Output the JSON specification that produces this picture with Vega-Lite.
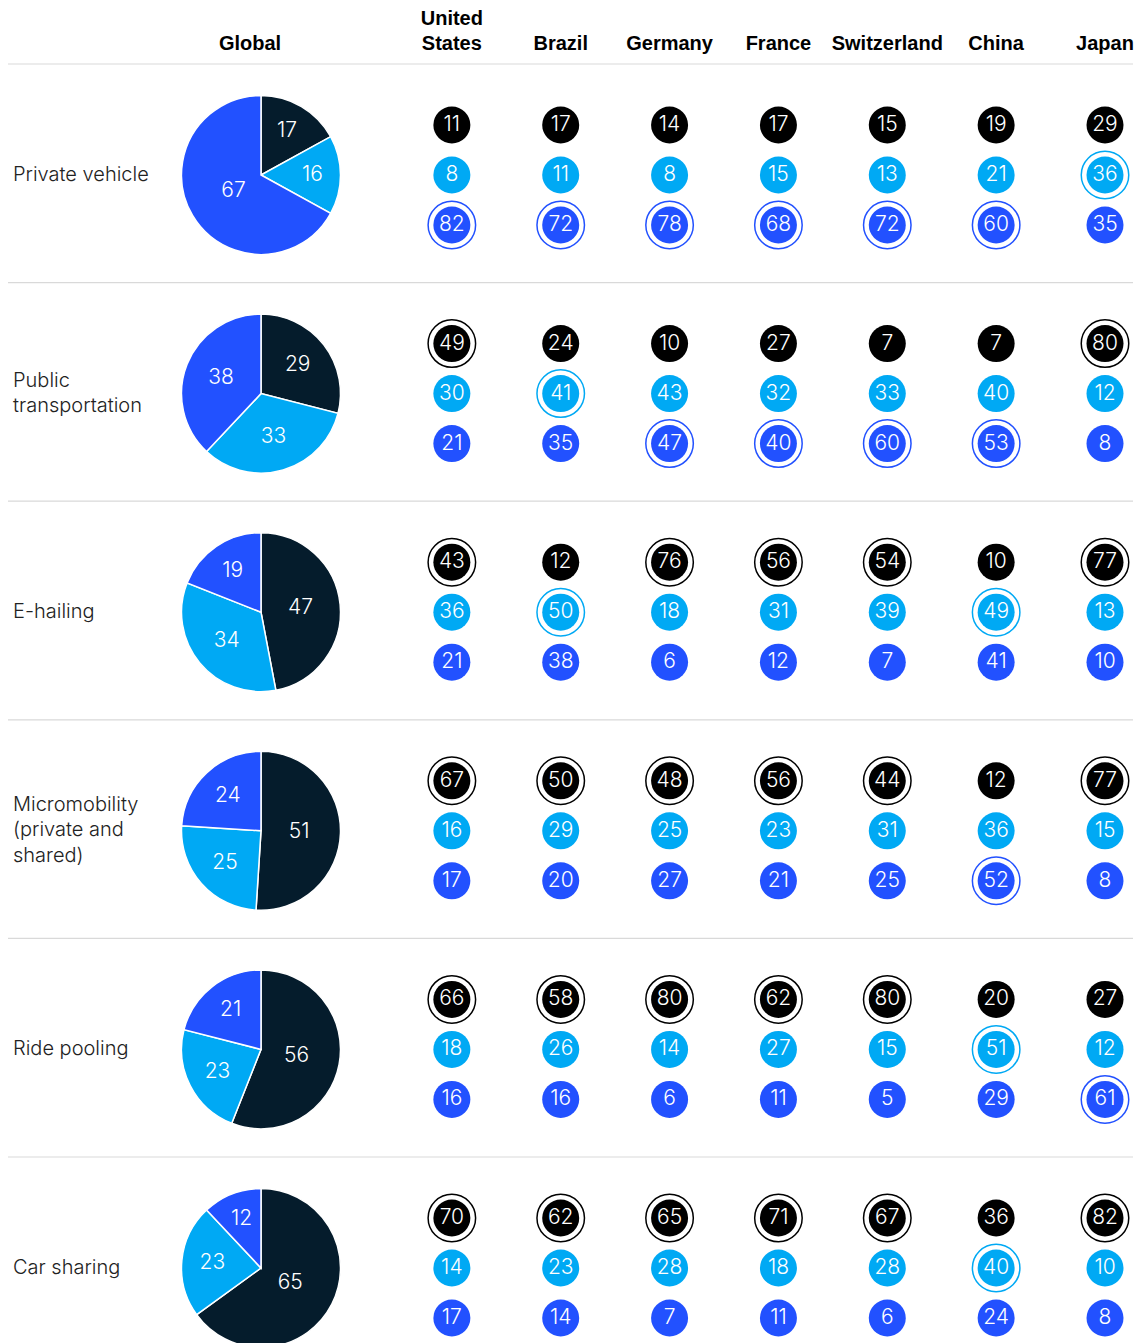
{
  "$schema": "https://vega.github.io/schema/vega-lite/v6.json",
  "width": 1145,
  "height": 1343,
  "autosize": {"type": "fit", "contains": "padding"},
  "padding": 0,
  "background": "white",
  "config": {"view": {"stroke": null}, "font": "Inter"},
  "datasets": {
    "survey": [
      {"mode":"Private vehicle","country":"Global","segment":"s1","value":17},
      {"mode":"Private vehicle","country":"Global","segment":"s2","value":16},
      {"mode":"Private vehicle","country":"Global","segment":"s3","value":67},
      {"mode":"Private vehicle","country":"United States","segment":"s1","value":11},
      {"mode":"Private vehicle","country":"United States","segment":"s2","value":8},
      {"mode":"Private vehicle","country":"United States","segment":"s3","value":82},
      {"mode":"Private vehicle","country":"Brazil","segment":"s1","value":17},
      {"mode":"Private vehicle","country":"Brazil","segment":"s2","value":11},
      {"mode":"Private vehicle","country":"Brazil","segment":"s3","value":72},
      {"mode":"Private vehicle","country":"Germany","segment":"s1","value":14},
      {"mode":"Private vehicle","country":"Germany","segment":"s2","value":8},
      {"mode":"Private vehicle","country":"Germany","segment":"s3","value":78},
      {"mode":"Private vehicle","country":"France","segment":"s1","value":17},
      {"mode":"Private vehicle","country":"France","segment":"s2","value":15},
      {"mode":"Private vehicle","country":"France","segment":"s3","value":68},
      {"mode":"Private vehicle","country":"Switzerland","segment":"s1","value":15},
      {"mode":"Private vehicle","country":"Switzerland","segment":"s2","value":13},
      {"mode":"Private vehicle","country":"Switzerland","segment":"s3","value":72},
      {"mode":"Private vehicle","country":"China","segment":"s1","value":19},
      {"mode":"Private vehicle","country":"China","segment":"s2","value":21},
      {"mode":"Private vehicle","country":"China","segment":"s3","value":60},
      {"mode":"Private vehicle","country":"Japan","segment":"s1","value":29},
      {"mode":"Private vehicle","country":"Japan","segment":"s2","value":36},
      {"mode":"Private vehicle","country":"Japan","segment":"s3","value":35},

      {"mode":"Public transportation","country":"Global","segment":"s1","value":29},
      {"mode":"Public transportation","country":"Global","segment":"s2","value":33},
      {"mode":"Public transportation","country":"Global","segment":"s3","value":38},
      {"mode":"Public transportation","country":"United States","segment":"s1","value":49},
      {"mode":"Public transportation","country":"United States","segment":"s2","value":30},
      {"mode":"Public transportation","country":"United States","segment":"s3","value":21},
      {"mode":"Public transportation","country":"Brazil","segment":"s1","value":24},
      {"mode":"Public transportation","country":"Brazil","segment":"s2","value":41},
      {"mode":"Public transportation","country":"Brazil","segment":"s3","value":35},
      {"mode":"Public transportation","country":"Germany","segment":"s1","value":10},
      {"mode":"Public transportation","country":"Germany","segment":"s2","value":43},
      {"mode":"Public transportation","country":"Germany","segment":"s3","value":47},
      {"mode":"Public transportation","country":"France","segment":"s1","value":27},
      {"mode":"Public transportation","country":"France","segment":"s2","value":32},
      {"mode":"Public transportation","country":"France","segment":"s3","value":40},
      {"mode":"Public transportation","country":"Switzerland","segment":"s1","value":7},
      {"mode":"Public transportation","country":"Switzerland","segment":"s2","value":33},
      {"mode":"Public transportation","country":"Switzerland","segment":"s3","value":60},
      {"mode":"Public transportation","country":"China","segment":"s1","value":7},
      {"mode":"Public transportation","country":"China","segment":"s2","value":40},
      {"mode":"Public transportation","country":"China","segment":"s3","value":53},
      {"mode":"Public transportation","country":"Japan","segment":"s1","value":80},
      {"mode":"Public transportation","country":"Japan","segment":"s2","value":12},
      {"mode":"Public transportation","country":"Japan","segment":"s3","value":8},

      {"mode":"E-hailing","country":"Global","segment":"s1","value":47},
      {"mode":"E-hailing","country":"Global","segment":"s2","value":34},
      {"mode":"E-hailing","country":"Global","segment":"s3","value":19},
      {"mode":"E-hailing","country":"United States","segment":"s1","value":43},
      {"mode":"E-hailing","country":"United States","segment":"s2","value":36},
      {"mode":"E-hailing","country":"United States","segment":"s3","value":21},
      {"mode":"E-hailing","country":"Brazil","segment":"s1","value":12},
      {"mode":"E-hailing","country":"Brazil","segment":"s2","value":50},
      {"mode":"E-hailing","country":"Brazil","segment":"s3","value":38},
      {"mode":"E-hailing","country":"Germany","segment":"s1","value":76},
      {"mode":"E-hailing","country":"Germany","segment":"s2","value":18},
      {"mode":"E-hailing","country":"Germany","segment":"s3","value":6},
      {"mode":"E-hailing","country":"France","segment":"s1","value":56},
      {"mode":"E-hailing","country":"France","segment":"s2","value":31},
      {"mode":"E-hailing","country":"France","segment":"s3","value":12},
      {"mode":"E-hailing","country":"Switzerland","segment":"s1","value":54},
      {"mode":"E-hailing","country":"Switzerland","segment":"s2","value":39},
      {"mode":"E-hailing","country":"Switzerland","segment":"s3","value":7},
      {"mode":"E-hailing","country":"China","segment":"s1","value":10},
      {"mode":"E-hailing","country":"China","segment":"s2","value":49},
      {"mode":"E-hailing","country":"China","segment":"s3","value":41},
      {"mode":"E-hailing","country":"Japan","segment":"s1","value":77},
      {"mode":"E-hailing","country":"Japan","segment":"s2","value":13},
      {"mode":"E-hailing","country":"Japan","segment":"s3","value":10},

      {"mode":"Micromobility (private and shared)","country":"Global","segment":"s1","value":51},
      {"mode":"Micromobility (private and shared)","country":"Global","segment":"s2","value":25},
      {"mode":"Micromobility (private and shared)","country":"Global","segment":"s3","value":24},
      {"mode":"Micromobility (private and shared)","country":"United States","segment":"s1","value":67},
      {"mode":"Micromobility (private and shared)","country":"United States","segment":"s2","value":16},
      {"mode":"Micromobility (private and shared)","country":"United States","segment":"s3","value":17},
      {"mode":"Micromobility (private and shared)","country":"Brazil","segment":"s1","value":50},
      {"mode":"Micromobility (private and shared)","country":"Brazil","segment":"s2","value":29},
      {"mode":"Micromobility (private and shared)","country":"Brazil","segment":"s3","value":20},
      {"mode":"Micromobility (private and shared)","country":"Germany","segment":"s1","value":48},
      {"mode":"Micromobility (private and shared)","country":"Germany","segment":"s2","value":25},
      {"mode":"Micromobility (private and shared)","country":"Germany","segment":"s3","value":27},
      {"mode":"Micromobility (private and shared)","country":"France","segment":"s1","value":56},
      {"mode":"Micromobility (private and shared)","country":"France","segment":"s2","value":23},
      {"mode":"Micromobility (private and shared)","country":"France","segment":"s3","value":21},
      {"mode":"Micromobility (private and shared)","country":"Switzerland","segment":"s1","value":44},
      {"mode":"Micromobility (private and shared)","country":"Switzerland","segment":"s2","value":31},
      {"mode":"Micromobility (private and shared)","country":"Switzerland","segment":"s3","value":25},
      {"mode":"Micromobility (private and shared)","country":"China","segment":"s1","value":12},
      {"mode":"Micromobility (private and shared)","country":"China","segment":"s2","value":36},
      {"mode":"Micromobility (private and shared)","country":"China","segment":"s3","value":52},
      {"mode":"Micromobility (private and shared)","country":"Japan","segment":"s1","value":77},
      {"mode":"Micromobility (private and shared)","country":"Japan","segment":"s2","value":15},
      {"mode":"Micromobility (private and shared)","country":"Japan","segment":"s3","value":8},

      {"mode":"Ride pooling","country":"Global","segment":"s1","value":56},
      {"mode":"Ride pooling","country":"Global","segment":"s2","value":23},
      {"mode":"Ride pooling","country":"Global","segment":"s3","value":21},
      {"mode":"Ride pooling","country":"United States","segment":"s1","value":66},
      {"mode":"Ride pooling","country":"United States","segment":"s2","value":18},
      {"mode":"Ride pooling","country":"United States","segment":"s3","value":16},
      {"mode":"Ride pooling","country":"Brazil","segment":"s1","value":58},
      {"mode":"Ride pooling","country":"Brazil","segment":"s2","value":26},
      {"mode":"Ride pooling","country":"Brazil","segment":"s3","value":16},
      {"mode":"Ride pooling","country":"Germany","segment":"s1","value":80},
      {"mode":"Ride pooling","country":"Germany","segment":"s2","value":14},
      {"mode":"Ride pooling","country":"Germany","segment":"s3","value":6},
      {"mode":"Ride pooling","country":"France","segment":"s1","value":62},
      {"mode":"Ride pooling","country":"France","segment":"s2","value":27},
      {"mode":"Ride pooling","country":"France","segment":"s3","value":11},
      {"mode":"Ride pooling","country":"Switzerland","segment":"s1","value":80},
      {"mode":"Ride pooling","country":"Switzerland","segment":"s2","value":15},
      {"mode":"Ride pooling","country":"Switzerland","segment":"s3","value":5},
      {"mode":"Ride pooling","country":"China","segment":"s1","value":20},
      {"mode":"Ride pooling","country":"China","segment":"s2","value":51},
      {"mode":"Ride pooling","country":"China","segment":"s3","value":29},
      {"mode":"Ride pooling","country":"Japan","segment":"s1","value":27},
      {"mode":"Ride pooling","country":"Japan","segment":"s2","value":12},
      {"mode":"Ride pooling","country":"Japan","segment":"s3","value":61},

      {"mode":"Car sharing","country":"Global","segment":"s1","value":65},
      {"mode":"Car sharing","country":"Global","segment":"s2","value":23},
      {"mode":"Car sharing","country":"Global","segment":"s3","value":12},
      {"mode":"Car sharing","country":"United States","segment":"s1","value":70},
      {"mode":"Car sharing","country":"United States","segment":"s2","value":14},
      {"mode":"Car sharing","country":"United States","segment":"s3","value":17},
      {"mode":"Car sharing","country":"Brazil","segment":"s1","value":62},
      {"mode":"Car sharing","country":"Brazil","segment":"s2","value":23},
      {"mode":"Car sharing","country":"Brazil","segment":"s3","value":14},
      {"mode":"Car sharing","country":"Germany","segment":"s1","value":65},
      {"mode":"Car sharing","country":"Germany","segment":"s2","value":28},
      {"mode":"Car sharing","country":"Germany","segment":"s3","value":7},
      {"mode":"Car sharing","country":"France","segment":"s1","value":71},
      {"mode":"Car sharing","country":"France","segment":"s2","value":18},
      {"mode":"Car sharing","country":"France","segment":"s3","value":11},
      {"mode":"Car sharing","country":"Switzerland","segment":"s1","value":67},
      {"mode":"Car sharing","country":"Switzerland","segment":"s2","value":28},
      {"mode":"Car sharing","country":"Switzerland","segment":"s3","value":6},
      {"mode":"Car sharing","country":"China","segment":"s1","value":36},
      {"mode":"Car sharing","country":"China","segment":"s2","value":40},
      {"mode":"Car sharing","country":"China","segment":"s3","value":24},
      {"mode":"Car sharing","country":"Japan","segment":"s1","value":82},
      {"mode":"Car sharing","country":"Japan","segment":"s2","value":10},
      {"mode":"Car sharing","country":"Japan","segment":"s3","value":8}
    ],
    "headers": [
      {"country":"Global","label":"Global"},
      {"country":"United States","label":"United\nStates"},
      {"country":"Brazil","label":"Brazil"},
      {"country":"Germany","label":"Germany"},
      {"country":"France","label":"France"},
      {"country":"Switzerland","label":"Switzerland"},
      {"country":"China","label":"China"},
      {"country":"Japan","label":"Japan"}
    ],
    "rows": [
      {"mode":"Private vehicle","label":"Private vehicle"},
      {"mode":"Public transportation","label":"Public\ntransportation"},
      {"mode":"E-hailing","label":"E-hailing"},
      {"mode":"Micromobility (private and shared)","label":"Micromobility\n(private and\nshared)"},
      {"mode":"Ride pooling","label":"Ride pooling"},
      {"mode":"Car sharing","label":"Car sharing"}
    ]
  },
  "layer": [
    {
      "data": {"name": "rows"},
      "mark": {"type": "rule", "color": "#d9d9d9", "strokeWidth": 1.2, "yOffset": -111, "xOffset": -335, "x2Offset": 28},
      "encoding": {
        "y": {"field": "mode", "type": "nominal", "axis": null,
              "scale": {"type": "point", "padding": 0, "domain": ["Private vehicle","Public transportation","E-hailing","Micromobility (private and shared)","Ride pooling","Car sharing"], "range": [175, 1268]}},
        "x": {"datum": "Global", "type": "nominal", "axis": null,
              "scale": {"type": "point", "padding": 0, "domain": ["Global","United States","Brazil","Germany","France","Switzerland","China","Japan"], "range": [343, 1105]}},
        "x2": {"datum": "Japan"}
      }
    },
    {
      "data": {"name": "survey"},
      "transform": [
        {"filter": "datum.country === 'Global'"},
        {"stack": "value", "groupby": ["mode"], "sort": [{"field": "segment", "order": "ascending"}], "as": ["t0", "t1"]}
      ],
      "mark": {"type": "arc", "radius": 79.5, "xOffset": -82, "stroke": "white", "strokeWidth": 1.5},
      "encoding": {
        "x": {"field": "country", "type": "nominal", "axis": null},
        "y": {"field": "mode", "type": "nominal", "axis": null},
        "theta": {"field": "t0", "type": "quantitative", "stack": null, "scale": {"domain": [0, 100]}},
        "theta2": {"field": "t1"},
        "color": {"field": "segment", "type": "nominal", "legend": null,
                  "scale": {"domain": ["s1","s2","s3"], "range": ["#051c2c","#00a9f4","#2251ff"]}}
      }
    },
    {
      "data": {"name": "survey"},
      "transform": [
        {"filter": "datum.country === 'Global'"},
        {"stack": "value", "groupby": ["mode"], "sort": [{"field": "segment", "order": "ascending"}], "as": ["t0", "t1"]},
        {"calculate": "(datum.t0 + datum.t1) / 2", "as": "mid"}
      ],
      "mark": {"type": "text", "xOffset": -82, "color": "white", "fontSize": 21, "fontWeight": 300, "align": "center", "baseline": "middle"},
      "encoding": {
        "x": {"field": "country", "type": "nominal", "axis": null},
        "y": {"field": "mode", "type": "nominal", "axis": null},
        "theta": {"field": "mid", "type": "quantitative", "stack": null},
        "radius": {"field": "value", "type": "quantitative", "scale": {"type": "linear", "zero": false, "domain": [12, 67], "range": [53, 32]}},
        "text": {"field": "value", "type": "quantitative"}
      }
    },
    {
      "data": {"name": "survey"},
      "transform": [{"filter": "datum.country !== 'Global'"}],
      "mark": {"type": "circle", "size": 1369, "opacity": 1},
      "encoding": {
        "x": {"field": "country", "type": "nominal", "axis": null},
        "y": {"field": "mode", "type": "nominal", "axis": null},
        "yOffset": {"field": "segment", "type": "nominal", "scale": {"type": "point", "padding": 0, "domain": ["s1","s2","s3"], "range": [-50, 50]}},
        "color": {"field": "segment", "type": "nominal", "legend": null,
                  "scale": {"domain": ["s1","s2","s3"], "range": ["#000000","#00a9f4","#2251ff"]}}
      }
    },
    {
      "data": {"name": "survey"},
      "transform": [
        {"filter": "datum.country !== 'Global'"},
        {"joinaggregate": [{"op": "max", "field": "value", "as": "maxv"}], "groupby": ["mode", "country"]},
        {"filter": "datum.value === datum.maxv"}
      ],
      "mark": {"type": "point", "shape": "circle", "filled": false, "size": 2256, "strokeWidth": 1.5, "opacity": 1},
      "encoding": {
        "x": {"field": "country", "type": "nominal", "axis": null},
        "y": {"field": "mode", "type": "nominal", "axis": null},
        "yOffset": {"field": "segment", "type": "nominal", "scale": {"type": "point", "padding": 0, "domain": ["s1","s2","s3"], "range": [-50, 50]}},
        "color": {"field": "segment", "type": "nominal", "legend": null,
                  "scale": {"domain": ["s1","s2","s3"], "range": ["#000000","#00a9f4","#2251ff"]}}
      }
    },
    {
      "data": {"name": "survey"},
      "transform": [{"filter": "datum.country !== 'Global'"}],
      "mark": {"type": "text", "color": "white", "fontSize": 21, "fontWeight": 300, "align": "center", "baseline": "middle"},
      "encoding": {
        "x": {"field": "country", "type": "nominal", "axis": null},
        "y": {"field": "mode", "type": "nominal", "axis": null},
        "yOffset": {"field": "segment", "type": "nominal", "scale": {"type": "point", "padding": 0, "domain": ["s1","s2","s3"], "range": [-50, 50]}},
        "text": {"field": "value", "type": "quantitative"}
      }
    },
    {
      "data": {"name": "headers"},
      "transform": [{"filter": "datum.country !== 'Global' && datum.country !== 'United States'"}],
      "mark": {"type": "text", "font": "Liberation Sans", "fontWeight": "bold", "fontSize": 20, "color": "#000000", "align": "center", "baseline": "bottom", "lineBreak": "\n", "lineHeight": 25, "yOffset": -121},
      "encoding": {
        "x": {"field": "country", "type": "nominal", "axis": null},
        "y": {"datum": "Private vehicle", "type": "nominal", "axis": null},
        "text": {"field": "label", "type": "nominal"}
      }
    },
    {
      "data": {"name": "headers"},
      "transform": [{"filter": "datum.country === 'United States'"}],
      "mark": {"type": "text", "font": "Liberation Sans", "fontWeight": "bold", "fontSize": 20, "color": "#000000", "align": "center", "baseline": "bottom", "lineBreak": "\n", "lineHeight": 25, "yOffset": -146},
      "encoding": {
        "x": {"field": "country", "type": "nominal", "axis": null},
        "y": {"datum": "Private vehicle", "type": "nominal", "axis": null},
        "text": {"field": "label", "type": "nominal"}
      }
    },
    {
      "data": {"name": "headers"},
      "transform": [{"filter": "datum.country === 'Global'"}],
      "mark": {"type": "text", "font": "Liberation Sans", "fontWeight": "bold", "fontSize": 20, "color": "#000000", "align": "center", "baseline": "bottom", "lineBreak": "\n", "lineHeight": 25, "yOffset": -121, "xOffset": -93},
      "encoding": {
        "x": {"field": "country", "type": "nominal", "axis": null},
        "y": {"datum": "Private vehicle", "type": "nominal", "axis": null},
        "text": {"field": "label", "type": "nominal"}
      }
    },
    {
      "data": {"name": "rows"},
      "transform": [{"filter": "datum.mode !== 'Public transportation' && datum.mode !== 'Micromobility (private and shared)'"}],
      "mark": {"type": "text", "fontSize": 20, "fontWeight": 300, "color": "#222222", "align": "left", "baseline": "middle", "lineBreak": "\n", "lineHeight": 25.5, "xOffset": -330},
      "encoding": {
        "x": {"datum": "Global", "type": "nominal", "axis": null},
        "y": {"field": "mode", "type": "nominal", "axis": null},
        "text": {"field": "label", "type": "nominal"}
      }
    },
    {
      "data": {"name": "rows"},
      "transform": [{"filter": "datum.mode === 'Public transportation'"}],
      "mark": {"type": "text", "fontSize": 20, "fontWeight": 300, "color": "#222222", "align": "left", "baseline": "middle", "lineBreak": "\n", "lineHeight": 25.5, "xOffset": -330, "yOffset": -13},
      "encoding": {
        "x": {"datum": "Global", "type": "nominal", "axis": null},
        "y": {"field": "mode", "type": "nominal", "axis": null},
        "text": {"field": "label", "type": "nominal"}
      }
    },
    {
      "data": {"name": "rows"},
      "transform": [{"filter": "datum.mode === 'Micromobility (private and shared)'"}],
      "mark": {"type": "text", "fontSize": 20, "fontWeight": 300, "color": "#222222", "align": "left", "baseline": "middle", "lineBreak": "\n", "lineHeight": 25.5, "xOffset": -330, "yOffset": -26},
      "encoding": {
        "x": {"datum": "Global", "type": "nominal", "axis": null},
        "y": {"field": "mode", "type": "nominal", "axis": null},
        "text": {"field": "label", "type": "nominal"}
      }
    }
  ],
  "resolve": {"scale": {"color": "independent"}}
}
